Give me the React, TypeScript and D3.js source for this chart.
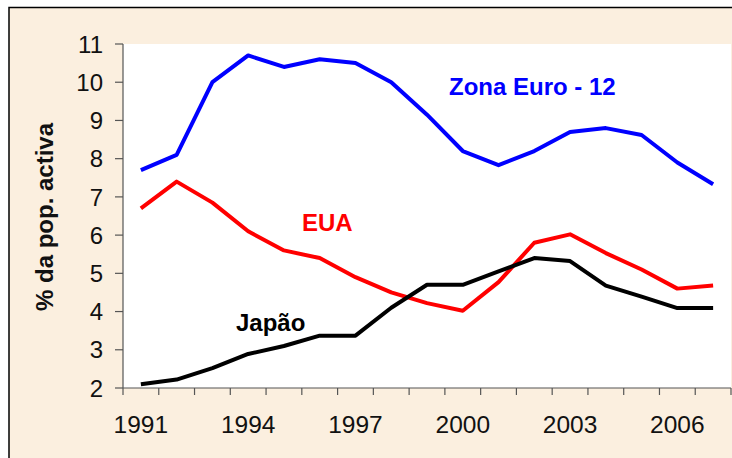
import * as d3 from "d3";

const years = d3.range(1991, 2008).map(String);
const tickYears = ["1991", "1994", "1997", "2000", "2003", "2006"];
const yTicks = [2, 3, 4, 5, 6, 7, 8, 9, 10, 11];

const zonaEuro = [7.7, 8.1, 10.0, 10.7, 10.4, 10.6, 10.5, 10.0, 9.15, 8.2, 7.83, 8.2, 8.7, 8.8, 8.62, 7.9, 7.33];
const eua = [6.7, 7.4, 6.85, 6.1, 5.6, 5.4, 4.9, 4.5, 4.22, 4.02, 4.77, 5.8, 6.02, 5.53, 5.1, 4.6, 4.68];
const japao = [2.1, 2.22, 2.52, 2.89, 3.1, 3.37, 3.37, 4.1, 4.7, 4.7, 5.05, 5.4, 5.32, 4.68, 4.39, 4.09, 4.09];

const W = 732;
const H = 458;
const plot = { left: 123, right: 731, top: 44, bottom: 388 };
const FONT = "'Liberation Sans', Arial, sans-serif";

export default function App() {
  const x = d3.scaleBand<string>().domain(years).range([plot.left, plot.right]).padding(0);
  const y = d3.scaleLinear().domain([2, 11]).range([plot.bottom, plot.top]);
  const cx = (i: number) => (x(years[i]) ?? 0) + x.bandwidth() / 2;

  const line = d3
    .line<number>()
    .x((_, i) => cx(i))
    .y((d) => y(d));

  const series = [
    { values: zonaEuro, color: "#0000FF" },
    { values: eua, color: "#FF0000" },
    { values: japao, color: "#000000" },
  ];

  const boundaries = years.map((yr) => x(yr) ?? 0).concat([plot.right]);

  return (
    <div style={{ position: "absolute", left: 0, top: 0 }}>
      <svg width={W} height={H} style={{ display: "block" }} fontFamily={FONT}>
        <rect x={9} y={7.5} width={W} height={H} fill="#FBEFDF" stroke="#000" strokeWidth={1.5} />
        <rect x={plot.left} y={plot.top} width={plot.right - plot.left} height={plot.bottom - plot.top} fill="#fff" />

        {/* y axis */}
        <line x1={plot.left} x2={plot.left} y1={plot.top} y2={plot.bottom} stroke="#555" strokeWidth={1.2} />
        {yTicks.map((t) => (
          <g key={t}>
            <line x1={plot.left - 8} x2={plot.left} y1={y(t)} y2={y(t)} stroke="#555" strokeWidth={1.2} />
            <text x={103} y={y(t)} dy="0.36em" textAnchor="end" fontSize={24} fill="#111">
              {t}
            </text>
          </g>
        ))}

        {/* x axis */}
        <line x1={plot.left} x2={plot.right} y1={plot.bottom} y2={plot.bottom} stroke="#555" strokeWidth={1.2} />
        {boundaries.map((bx, i) => (
          <line key={i} x1={bx} x2={bx} y1={plot.bottom} y2={plot.bottom + 7} stroke="#555" strokeWidth={1.2} />
        ))}
        {tickYears.map((yr) => (
          <text key={yr} x={(x(yr) ?? 0) + x.bandwidth() / 2} y={433} textAnchor="middle" fontSize={24.5} fill="#111">
            {yr}
          </text>
        ))}

        <text
          transform={`translate(53, 217) rotate(-90)`}
          textAnchor="middle"
          fontSize={24}
          fontWeight="bold"
          fill="#111"
        >
          % da pop. activa
        </text>

        {series.map((s, i) => (
          <path key={i} d={line(s.values) ?? ""} fill="none" stroke={s.color} strokeWidth={4} strokeLinejoin="round" />
        ))}

        <text x={449} y={95} fontSize={24} fontWeight="bold" fill="#0000FF">
          Zona Euro - 12
        </text>
        <text x={302} y={231} fontSize={24} fontWeight="bold" fill="#FF0000">
          EUA
        </text>
        <text x={236} y={331} fontSize={24} fontWeight="bold" fill="#000">
          Japão
        </text>
      </svg>
    </div>
  );
}
